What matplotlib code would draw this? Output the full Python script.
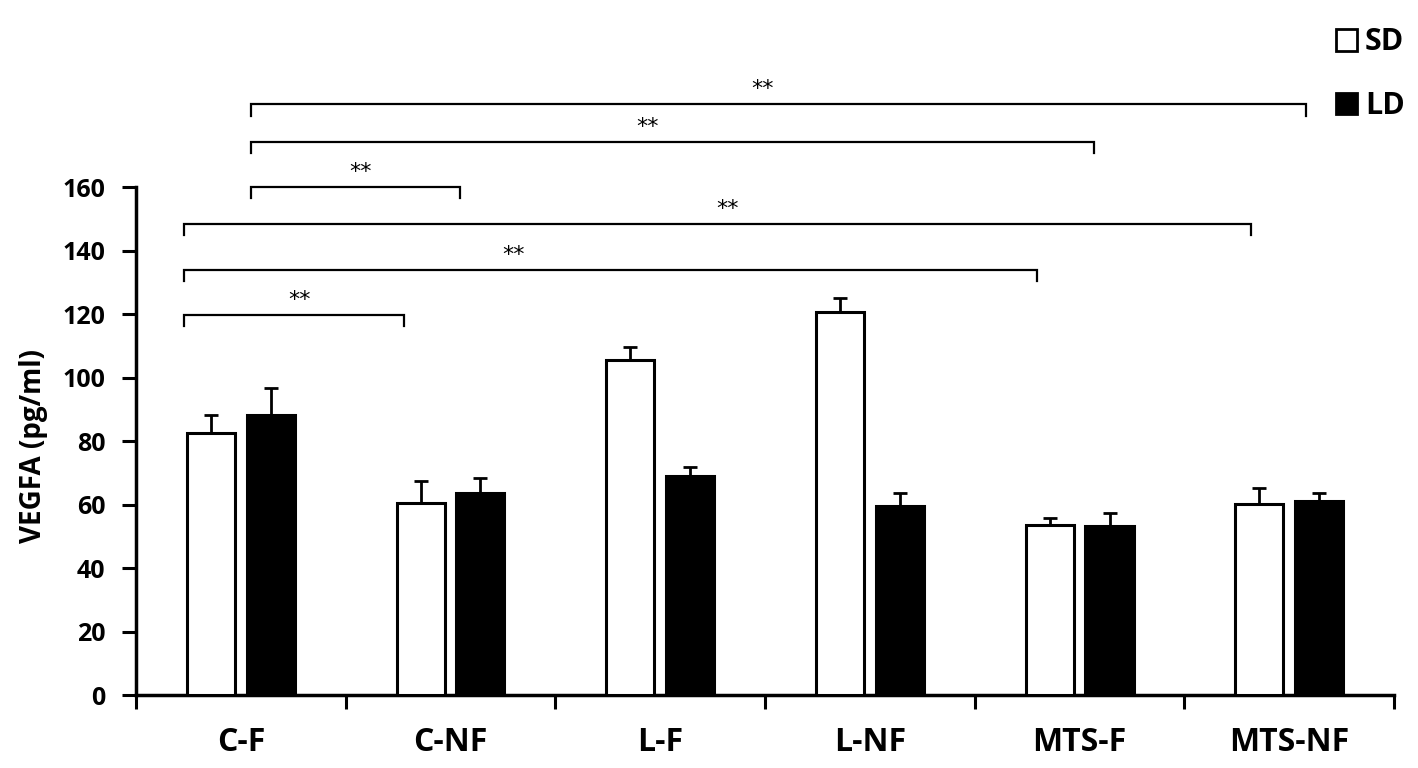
import numpy as np
import matplotlib
matplotlib.use('Agg')
import matplotlib.pyplot as plt
from matplotlib.patches import Patch

plt.rcParams['font.family'] = ['Open Sans', 'DejaVu Sans']

groups = ['C-F', 'C-NF', 'L-F', 'L-NF', 'MTS-F', 'MTS-NF']
sd_mean = [82.5, 60.5, 105.5, 120.5, 53.5, 60.2]
sd_err = [5.8, 7.0, 4.0, 4.7, 2.4, 5.0]
ld_mean = [88.3, 63.5, 69.0, 59.5, 53.2, 61.0]
ld_err = [8.4, 4.7, 2.8, 4.0, 4.0, 2.5]

# significance brackets: (x start, x end, bracket height, label)
brackets = [
    (-0.27, 0.78, 119.7, '**'),
    (-0.27, 3.795, 133.8, '**'),
    (-0.27, 4.82, 148.4, '**'),
    (0.05, 1.047, 160.0, '**'),
    (0.05, 4.07, 174.3, '**'),
    (0.05, 5.08, 186.0, '**'),
]
star_x = [0.28, 1.30, 2.32, 0.57, 1.94, 2.49]

fig = plt.figure(figsize=(14.18, 7.68), dpi=100)
ax = fig.add_axes([0.0959, 0.095, 0.8872, 0.6615])

x = np.arange(len(groups))
w = 0.229
off = 0.143

ax.bar(x - off, sd_mean, w, color='white', edgecolor='black', linewidth=2.2, zorder=3, label='SD')
ax.bar(x + off, ld_mean, w, color='black', edgecolor='black', linewidth=2.2, zorder=3, label='LD')
ax.errorbar(x - off, sd_mean, yerr=[np.zeros(len(x)), sd_err], fmt='none', ecolor='black',
            elinewidth=2, capsize=5, capthick=2, zorder=2)
ax.errorbar(x + off, ld_mean, yerr=[np.zeros(len(x)), ld_err], fmt='none', ecolor='black',
            elinewidth=2, capsize=5, capthick=2, zorder=2)

drop = 3.5
for (x0, x1, h, lab), sx in zip(brackets, star_x):
    ax.plot([x0, x0, x1, x1], [h - drop, h, h, h - drop], color='black', lw=1.6,
            clip_on=False, solid_joinstyle='miter')
    ax.text(sx, h + 1.6, lab, ha='center', va='bottom', fontsize=16,
            family='DejaVu Sans', clip_on=False)

ax.set_xlim(-0.5, 5.5)
ax.set_ylim(0, 160)
ax.set_yticks(np.arange(0, 161, 20))
ax.set_xticks(x)
ax.set_xticklabels(groups, fontsize=23, fontweight='bold')
ax.set_xticks(np.arange(-0.5, 5.6, 1), minor=True)
ax.tick_params(axis='x', which='major', length=0, pad=22)
ax.tick_params(axis='x', which='minor', length=10, width=2.2, direction='out')
ax.tick_params(axis='y', length=10, width=2.2, direction='out', pad=12, labelsize=18)
for t in ax.get_yticklabels():
    t.set_fontweight('bold')

ax.set_ylabel('VEGFA (pg/ml)', fontsize=20, fontweight='bold')
ax.yaxis.set_label_coords(-0.07, 0.49)

for s in ['top', 'right']:
    ax.spines[s].set_visible(False)
for s in ['left', 'bottom']:
    ax.spines[s].set_linewidth(2.5)

handles = [Patch(facecolor='white', edgecolor='black', linewidth=2),
           Patch(facecolor='black', edgecolor='black', linewidth=2)]
leg = fig.legend(handles, ['SD', 'LD'], loc='upper right', bbox_to_anchor=(1.01, 1.0),
                 frameon=False, handlelength=0.7, handleheight=0.7, handletextpad=0.25,
                 labelspacing=1.1, prop={'size': 22, 'weight': 'bold'})

fig.savefig('out.png', dpi=100, facecolor='white')
